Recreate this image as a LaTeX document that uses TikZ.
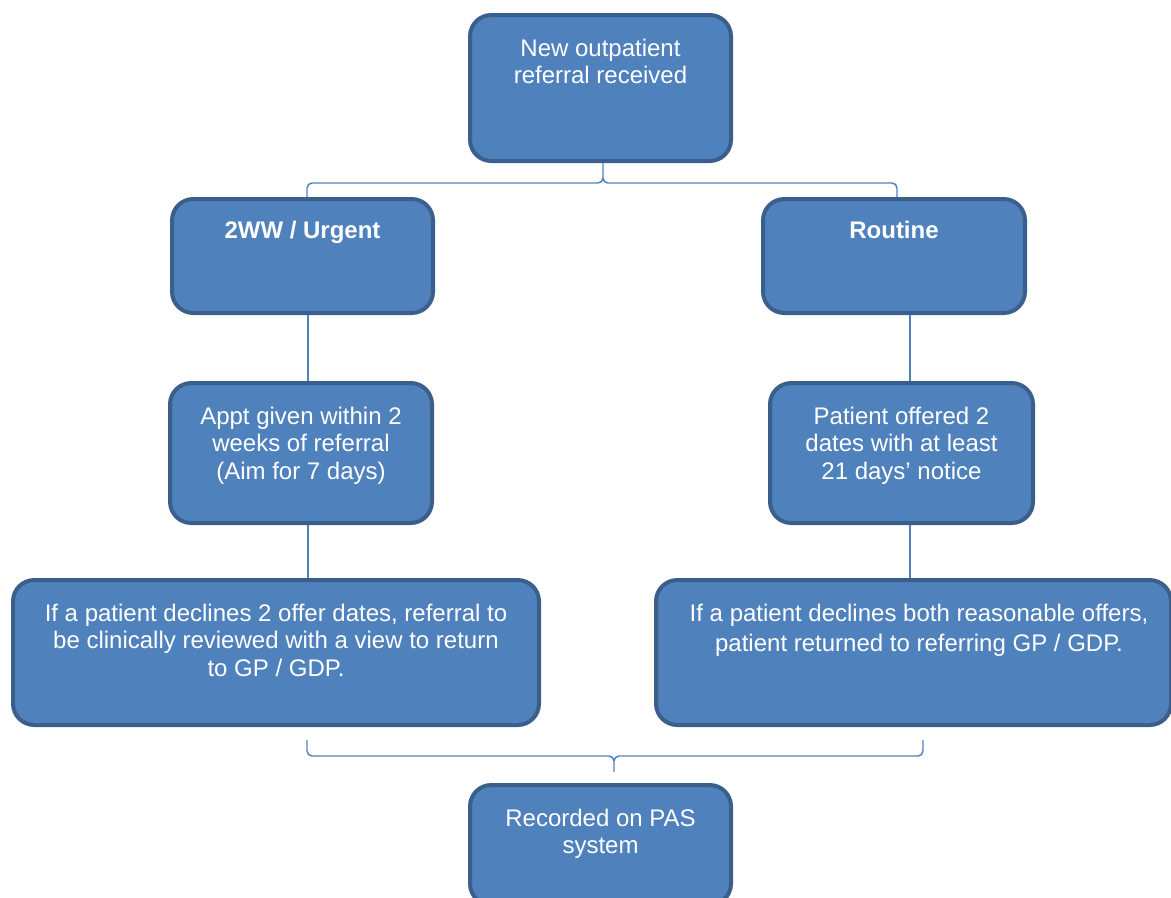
\documentclass[tikz,border=0pt]{standalone}
\usepackage{fontspec}
\setmainfont{Liberation Sans}
\definecolor{boxfill}{HTML}{4F81BD}
\definecolor{boxline}{HTML}{3A5F8B}
\definecolor{conn}{HTML}{4F81BD}
\begin{document}
\begin{tikzpicture}[x=0.75pt,y=-0.75pt,
  box/.style={draw=boxline, fill=boxfill, line width=3pt, rounded corners=16pt, inner sep=0pt},
  txt/.style={text=white, align=center, inner sep=0pt, anchor=north, font=\fontsize{18}{20.6}\selectfont},
  btxt/.style={txt, font=\fontsize{18}{20.6}\selectfont\bfseries},
  conn/.style={draw=conn, line width=1.1pt, line join=round}]
\useasboundingbox (0,0) rectangle (1171,897);
\begin{scope}
\clip (0,0) rectangle (1171,897);
\newcommand\mkbox[5]{%
  \node[box, minimum width={(#4-#2-4)*0.75pt}, minimum height={(#5-#3-4)*0.75pt}]
    (#1) at ({(#2+#4)/2},{(#3+#5)/2}) {};}
\mkbox{top}{468}{13}{733}{163}
\mkbox{urg}{170}{197}{435}{315}
\mkbox{rout}{761}{197}{1027}{315}
\mkbox{appt}{168}{381}{434}{525}
\mkbox{pat}{768}{381}{1035}{525}
\mkbox{decl}{11}{578}{541}{727}
\mkbox{ret}{654}{578}{1173}{727}
\mkbox{pas}{468}{783}{733}{907}

\node[txt] (toptxt) at (600.5,36.8) {\strut New outpatient\\referral received};
\node[btxt] (urgtxt) at (302.5,218.8) {\strut 2WW / Urgent};
\node[btxt] (routtxt) at (894,218.8) {\strut Routine};
\node[txt] (appttxt) at (301,404.8) {\strut Appt given within 2\\weeks of referral\\(Aim for 7 days)};
\node[txt] (pattxt) at (901.5,404.8) {\strut Patient offered 2\\dates with at least\\21 days’ notice};
\node[txt] (decltxt) at (276,601.8) {\strut If a patient declines 2 offer dates, referral to\\be clinically reviewed with a view to return\\to GP / GDP.};
\node[txt, font=\fontsize{18}{22.5}\selectfont] (rettxt) at (919,600.5) {\strut If a patient declines both reasonable offers,\\patient returned to referring GP / GDP.};
\node[txt] (pastxt) at (600.5,806.8) {\strut Recorded on PAS\\system};
\end{scope}

% top brace
\coordinate (tipT) at (603,163);
\draw[conn] (urg.north -| 307,0) -- ++(0,-9) to[out=90,in=180] ++(5,-5) -- (598,183)
  to[out=0,in=-90] (603,178) -- (tipT);
\draw[conn] (rout.north -| 897,0) -- ++(0,-9) to[out=90,in=0] ++(-5,-5) -- (608,183)
  to[out=180,in=-90] (603,178);
% verticals
\draw[conn] (urg.south -| 308,0) -- (appt.north -| 308,0);
\draw[conn] (appt.south -| 308,0) -- (decl.north -| 308,0);
\draw[conn] (rout.south -| 910,0) -- (pat.north -| 910,0);
\draw[conn] (pat.south -| 910,0) -- (ret.north -| 910,0);
% bottom brace
\coordinate (bL) at (307,740);
\coordinate (bR) at (923,740);
\coordinate (bTip) at (614,772);
\draw[conn] (bL) -- (307,751) to[out=-90,in=180] (312,756) -- (609,756)
  to[out=0,in=90] (614,761) -- (bTip);
\draw[conn] (bR) -- (923,751) to[out=-90,in=0] (918,756) -- (619,756)
  to[out=180,in=90] (614,761);
\end{tikzpicture}
\end{document}
